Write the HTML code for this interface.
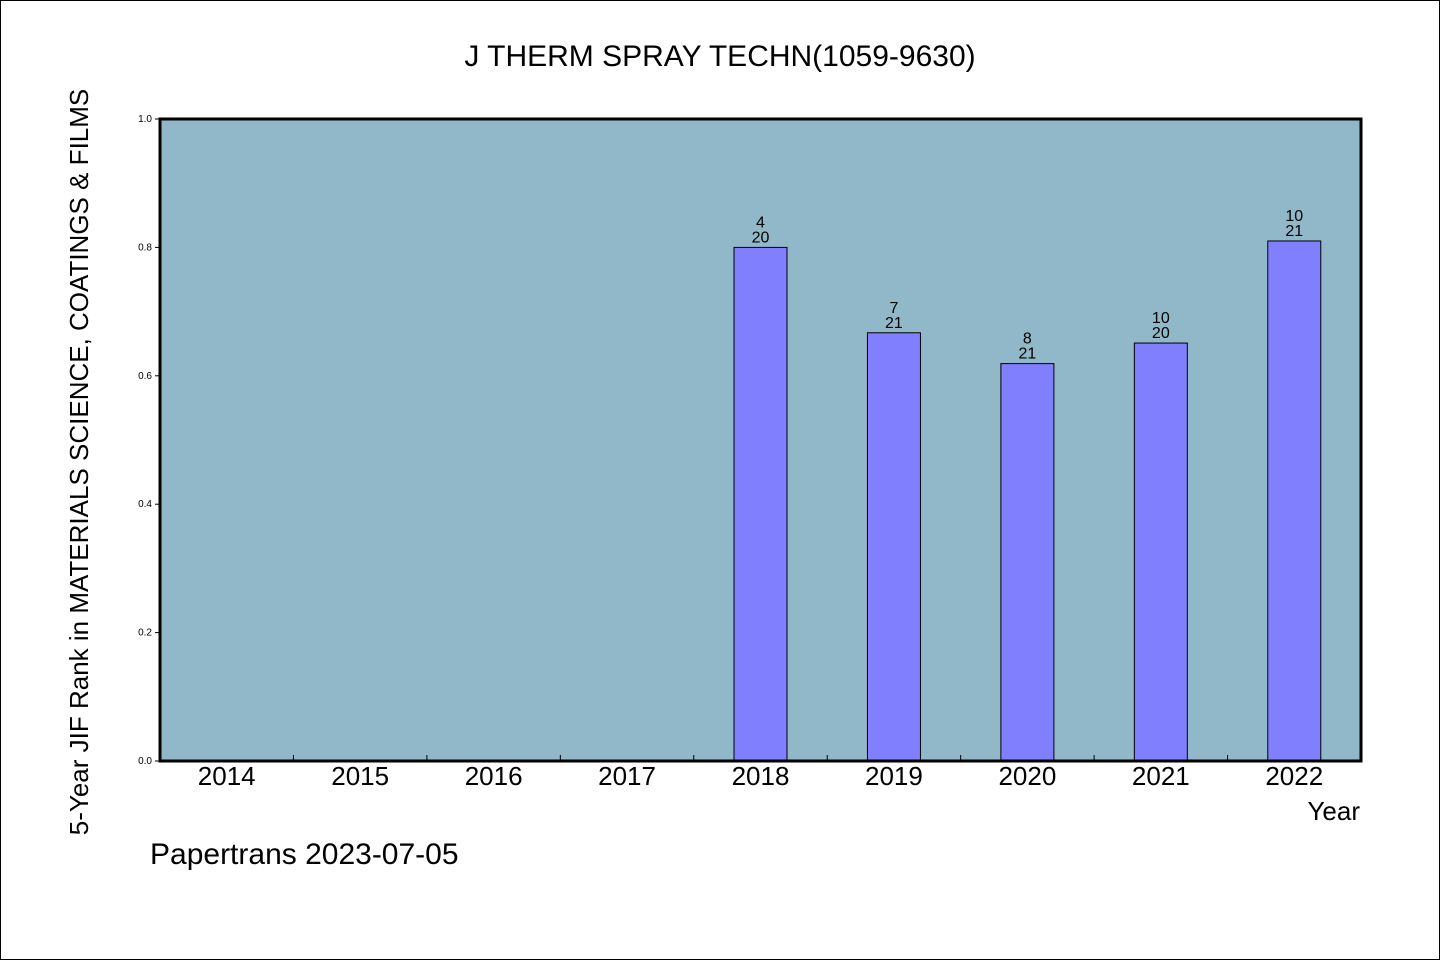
<!DOCTYPE html>
<html><head><meta charset="utf-8"><style>
body{margin:0;background:#fff}
svg text{font-family:"WenQuanYi Zen Hei","Liberation Sans",sans-serif;fill:#000}
</style></head><body>
<svg id="chart" width="1440" height="960" xmlns="http://www.w3.org/2000/svg">
<rect x="0.5" y="0.5" width="1439" height="959" fill="#fff" stroke="#000"/>
<text x="720" y="66" font-size="30" text-anchor="middle">J THERM SPRAY TECHN(1059-9630)</text>
<rect x="160" y="119" width="1201" height="642" fill="#90b8c8"/>
<g id="marks"></g>
<rect x="160" y="119" width="1201" height="642" fill="none" stroke="#000" stroke-width="3"/>
<text transform="translate(88,462) rotate(-90)" font-size="26" text-anchor="middle">5-Year JIF Rank in MATERIALS SCIENCE, COATINGS &amp; FILMS</text>
<text x="1360" y="820" font-size="26" text-anchor="end">Year</text>
<text x="150" y="864" font-size="30">Papertrans 2023-07-05</text>
</svg>
<script>
const categories=["2014","2015","2016","2017","2018","2019","2020","2021","2022"];
const values=[null,null,null,null,0.8,0.667,0.619,0.651,0.81];
const rankTop=[null,null,null,null,"4","7","8","10","10"];
const rankBottom=[null,null,null,null,"20","21","21","20","21"];
const yTicks=["0.0","0.2","0.4","0.6","0.8","1.0"];
const X0=160,X1=1361,Y0=761,Y1=119,NS="http://www.w3.org/2000/svg";
const bw=(X1-X0)/categories.length;
const xs=i=>X0+bw*(i+0.5);
const ys=v=>Y0-(Y0-Y1)*v;
const g=document.getElementById('marks');
function mk(t,a,txt){const e=document.createElementNS(NS,t);for(const k in a)e.setAttribute(k,a[k]);if(txt!=null)e.textContent=txt;g.appendChild(e);return e;}
yTicks.forEach(t=>{const y=ys(parseFloat(t));
const l=mk('line',{x1:X0-5,x2:X0,y1:y,y2:y,stroke:'#000'});


const tx=mk('text',{x:X0-8,y:y+3,'font-size':10,'text-anchor':'end'},t);

});
categories.forEach((c,i)=>{
if(i>0){const tk=mk('line',{x1:X0+bw*i,x2:X0+bw*i,y1:Y0-6,y2:Y0,stroke:'#000'});

}
const tl=mk('text',{x:xs(i),y:785,'font-size':26,'text-anchor':'middle'},c);


if(values[i]!=null){const y=ys(values[i]);
const b=mk('rect',{x:xs(i)-26.5,y:y,width:53,height:Y0-y,fill:'#8080ff',stroke:'#000','stroke-width':1});


const a=mk('text',{x:xs(i),y:y-20,'font-size':16,'text-anchor':'middle'},rankTop[i]);


const d=mk('text',{x:xs(i),y:y-5,'font-size':16,'text-anchor':'middle'},rankBottom[i]);

}
});
</script>
</body></html>
